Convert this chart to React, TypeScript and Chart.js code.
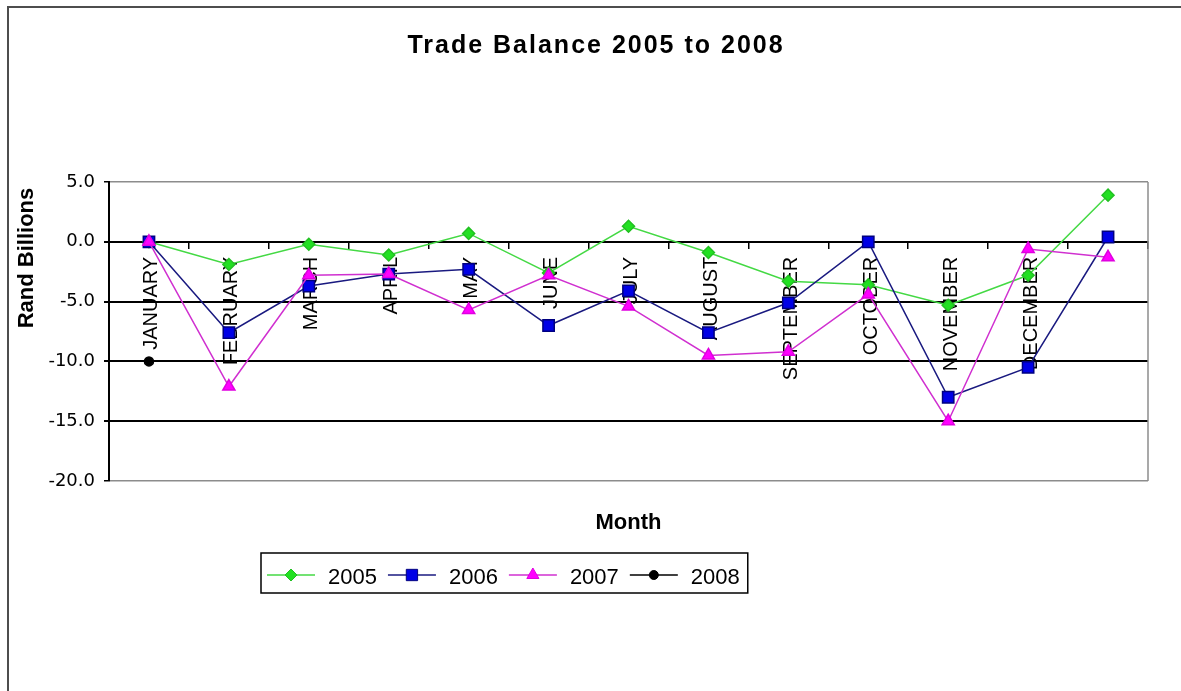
import React, { useEffect, useRef } from 'react';
import { Chart, registerables } from 'chart.js';

Chart.register(...registerables);

// ---- data ----
const MONTHS = [
  'JANUARY', 'FEBRUARY', 'MARCH', 'APRIL', 'MAY', 'JUNE', 'JULY',
  'AUGUST', 'SEPTEMBER', 'OCTOBER', 'NOVEMBER', 'DECEMBER', '',
];
const SERIES_2005 = [0.0, -1.9, -0.2, -1.1, 0.7, -2.6, 1.3, -0.9, -3.3, -3.6, -5.3, -2.8, 3.9];
const SERIES_2006 = [0.0, -7.6, -3.7, -2.7, -2.3, -7.0, -4.1, -7.6, -5.1, 0.0, -13.0, -10.5, 0.4];
const SERIES_2007 = [0.0, -12.1, -2.8, -2.7, -5.7, -2.8, -5.4, -9.5, -9.2, -4.4, -15.0, -0.6, -1.3];
const SERIES_2008 = [-10.0, null, null, null, null, null, null, null, null, null, null, null, null];
const YEARS = ['2005', '2006', '2007', '2008'];
const Y_MIN = -20;
const Y_MAX = 5;
const Y_STEP = 5;
const TITLE = 'Trade Balance 2005 to 2008';
const Y_TITLE = 'Rand Billions';
const X_TITLE = 'Month';

function drawMarker(ctx: CanvasRenderingContext2D, style: string, x: number, y: number, r: number, fill: string, stroke: string) {
  ctx.save();
  ctx.beginPath();
  if (style === 'rectRot') {
    ctx.moveTo(x, y - r);
    ctx.lineTo(x + r, y);
    ctx.lineTo(x, y + r);
    ctx.lineTo(x - r, y);
    ctx.closePath();
  } else if (style === 'rect') {
    const s = r * Math.SQRT1_2;
    ctx.rect(x - s, y - s, 2 * s, 2 * s);
  } else if (style === 'triangle') {
    let a = 0;
    ctx.moveTo(x + Math.sin(a) * r, y - Math.cos(a) * r);
    a += (2 * Math.PI) / 3;
    ctx.lineTo(x + Math.sin(a) * r, y - Math.cos(a) * r);
    a += (2 * Math.PI) / 3;
    ctx.lineTo(x + Math.sin(a) * r, y - Math.cos(a) * r);
    ctx.closePath();
  } else {
    ctx.arc(x, y, r, 0, Math.PI * 2);
  }
  ctx.fillStyle = fill;
  ctx.fill();
  ctx.strokeStyle = stroke;
  ctx.lineWidth = 1;
  ctx.stroke();
  ctx.restore();
}

const decorPlugin = {
  id: 'decor',
  beforeDraw(chart: any) {
    const ctx = chart.ctx as CanvasRenderingContext2D;
    ctx.save();
    ctx.fillStyle = '#ffffff';
    ctx.fillRect(0, 0, chart.width, chart.height);
    ctx.restore();
  },
  beforeDatasetsDraw(chart: any) {
    const ctx = chart.ctx as CanvasRenderingContext2D;
    const a = chart.chartArea;
    ctx.save();
    ctx.strokeStyle = '#8c8c8c';
    ctx.lineWidth = 1.5;
    ctx.beginPath();
    ctx.moveTo(a.right, a.top);
    ctx.lineTo(a.right, a.bottom);
    ctx.stroke();
    ctx.restore();
  },
  afterDraw(chart: any) {
    const ctx = chart.ctx as CanvasRenderingContext2D;
    const a = chart.chartArea;
    ctx.save();
    // outer border (top and left visible)
    ctx.strokeStyle = '#4d4d4d';
    ctx.lineWidth = 2;
    ctx.beginPath();
    ctx.moveTo(8, chart.height);
    ctx.lineTo(8, 7);
    ctx.lineTo(chart.width, 7);
    ctx.stroke();

    // title
    ctx.fillStyle = '#000';
    ctx.font = 'bold 25px "Liberation Sans", Arial, sans-serif';
    (ctx as any).letterSpacing = '2px';
    ctx.textAlign = 'center';
    ctx.textBaseline = 'alphabetic';
    ctx.fillText(TITLE, 596, 53);
    (ctx as any).letterSpacing = '0px';

    // x title
    ctx.font = 'bold 22px "Liberation Sans", Arial, sans-serif';
    ctx.fillText(X_TITLE, (a.left + a.right) / 2, 529);

    // y title
    ctx.save();
    ctx.translate(33, 258);
    ctx.rotate(-Math.PI / 2);
    ctx.textAlign = 'center';
    ctx.fillText(Y_TITLE, 0, 0);
    ctx.restore();

    // legend
    const datasets = chart.data.datasets;
    ctx.font = '22px "Liberation Sans", Arial, sans-serif';
    ctx.textAlign = 'left';
    const lineLen = 48;
    const gapText = 13;
    const gapItem = 11;
    const boxLeft = 261;
    const boxTop = 553;
    const boxH = 40;
    const cy = boxTop + boxH / 2 + 2;
    let x = boxLeft + 6;
    const items: any[] = [];
    datasets.forEach((ds: any) => {
      const w = ctx.measureText(ds.label).width;
      items.push({ ds, x, w });
      x += lineLen + gapText + w + gapItem;
    });
    const boxRight = x - gapItem + 8;
    ctx.strokeStyle = '#000';
    ctx.lineWidth = 1.5;
    ctx.strokeRect(boxLeft, boxTop, boxRight - boxLeft, boxH);
    items.forEach((it) => {
      const ds = it.ds;
      ctx.strokeStyle = ds.borderColor;
      ctx.lineWidth = 1.5;
      ctx.beginPath();
      ctx.moveTo(it.x, cy);
      ctx.lineTo(it.x + lineLen, cy);
      ctx.stroke();
      drawMarker(ctx, ds.pointStyle, it.x + lineLen / 2, cy, ds.pointRadius, ds.pointBackgroundColor, ds.pointBorderColor);
      ctx.fillStyle = '#000';
      ctx.fillText(ds.label, it.x + lineLen + gapText, cy + 9);
    });
    ctx.restore();
  },
};

export default function App() {
  const ref = useRef<HTMLCanvasElement | null>(null);

  useEffect(() => {
    if (!ref.current) return;
    const chart = new Chart(ref.current, {
      type: 'line',
      data: {
        labels: MONTHS,
        datasets: [
          {
            label: YEARS[0],
            data: SERIES_2005,
            borderColor: '#44d944',
            borderWidth: 1.5,
            pointStyle: 'rectRot',
            pointRadius: 6,
            pointBackgroundColor: '#22e022',
            pointBorderColor: '#22c022',
            order: 4,
          },
          {
            label: YEARS[1],
            data: SERIES_2006,
            borderColor: '#1a1a80',
            borderWidth: 1.5,
            pointStyle: 'rect',
            pointRadius: 8,
            pointBackgroundColor: '#0000e6',
            pointBorderColor: '#000080',
            order: 3,
          },
          {
            label: YEARS[2],
            data: SERIES_2007,
            borderColor: '#d030d0',
            borderWidth: 1.5,
            pointStyle: 'triangle',
            pointRadius: 7,
            pointBackgroundColor: '#ff00ff',
            pointBorderColor: '#e000e0',
            order: 2,
          },
          {
            label: YEARS[3],
            data: SERIES_2008,
            borderColor: '#000000',
            borderWidth: 1.5,
            pointStyle: 'circle',
            pointRadius: 4.5,
            pointBackgroundColor: '#000000',
            pointBorderColor: '#000000',
            order: 1,
          },
        ] as any,
      },
      options: {
        animation: false,
        responsive: false,
        maintainAspectRatio: false,
        devicePixelRatio: 1,
        layout: { padding: { left: 0, top: 182, right: 33, bottom: 210 } },
        plugins: {
          legend: { display: false },
          title: { display: false },
          tooltip: { enabled: false },
        },
        elements: { line: { tension: 0 } },
        scales: {
          x: {
            axis: 'x',
            type: 'category',
            position: { y: 0 } as any,
            offset: true,
            grid: {
              display: true,
              drawOnChartArea: false,
              drawTicks: true,
              tickLength: 6,
              offset: true,
              color: '#000',
              lineWidth: 1.5,
            },
            border: { display: true, color: '#000', width: 2 },
            ticks: {
              autoSkip: false,
              minRotation: 90,
              maxRotation: 90,
              padding: 9,
              labelOffset: 3,
              color: '#000',
              font: { family: '"Liberation Sans", Arial, sans-serif', size: 20 },
            },
          } as any,
          y: {
            type: 'linear',
            min: Y_MIN,
            max: Y_MAX,
            afterFit(scale: any) {
              scale.width = 109;
            },
            ticks: {
              stepSize: Y_STEP,
              callback: (v: any) => Number(v).toFixed(1),
              padding: 9,
              color: '#000',
              font: { family: '"DejaVu Sans", sans-serif', size: 18 },
            },
            grid: {
              color: (c: any) =>
                c.tick && (c.tick.value === Y_MAX || c.tick.value === Y_MIN) ? '#8c8c8c' : '#000',
              lineWidth: (c: any) =>
                c.tick && (c.tick.value === Y_MAX || c.tick.value === Y_MIN) ? 1.5 : 2,
              tickLength: 5,
              tickColor: '#000',
            },
            border: { display: true, color: '#000', width: 2 },
          } as any,
        },
      },
      plugins: [decorPlugin],
    });
    return () => chart.destroy();
  }, []);

  return (
    <div style={{ position: 'fixed', left: 0, top: 0, width: 1181, height: 691, background: '#fff' }}>
      <canvas ref={ref} width={1181} height={691} style={{ display: 'block', width: 1181, height: 691 }} />
    </div>
  );
}
